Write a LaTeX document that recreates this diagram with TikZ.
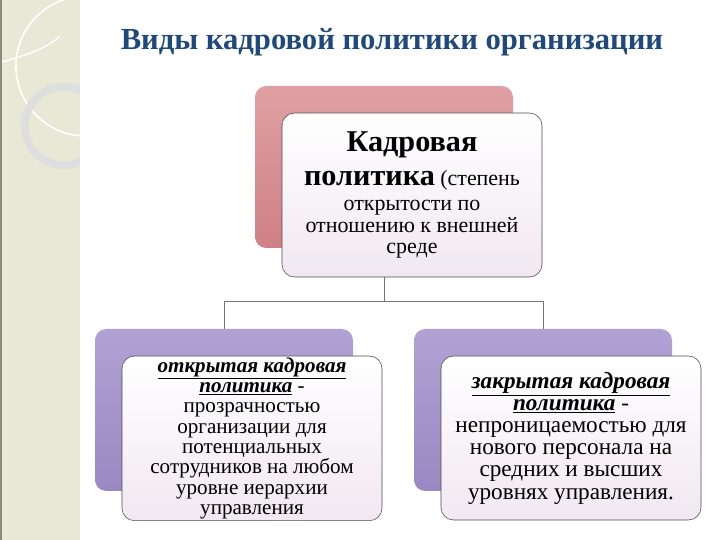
\documentclass[tikz,border=0pt]{standalone}
\usepackage{fontspec}
\setmainfont{Liberation Serif}
\usetikzlibrary{positioning, calc}
\definecolor{titleblue}{HTML}{1F497D}
\definecolor{stripbeige}{HTML}{E9E7D6}
\definecolor{stripedge}{HTML}{8C8A7E}
\definecolor{pinktop}{HTML}{E0A0A3}
\definecolor{pinkbot}{HTML}{CF8085}
\definecolor{lilactop}{HTML}{B1A2D4}
\definecolor{lilacbot}{HTML}{9A88C2}
\definecolor{frontbot}{HTML}{F1E8F1}

\begin{document}
\begin{tikzpicture}[
  backbox/.style={minimum width=6.45cm, minimum height=4.05cm, rounded corners=8pt, inner sep=0pt},
  frontbox/.style={draw=black!70, thin, top color=white, bottom color=frontbot, minimum width=6.5cm, minimum height=4.1cm, rounded corners=9pt, align=center, inner sep=1pt, anchor=north west},
  link/.style={draw=black!55, thin},
  every node/.style={align=center}]
  \useasboundingbox (0,0) rectangle (18,13.5);

  % Left strip
  \fill[stripbeige] (0,0) rectangle (2,13.5);
  \fill[stripedge] (0,0) rectangle (0.05,13.5);
  \begin{scope}
    \clip (0.05,0) rectangle (2,13.5);
    \draw[white, line width=1.2pt] (2.15,11.85) circle (1.75);
    \draw[black!13, line width=5.5pt] (1.6,10.35) circle (0.98);
    \draw[white, line width=1pt] (0.05,11.95) .. controls (0.6,12.1) and (1.2,12.3) .. (1.5,12.6);
  \end{scope}

  % Title
  \node[text=titleblue, font=\fontsize{21.8}{26}\selectfont\bfseries] (title) at (9.8,12.45) {Виды кадровой политики организации};

  % Back boxes
  \node[backbox, top color=pinktop, bottom color=pinkbot] (topback) at (9.6,9.325) {};
  \node[backbox, top color=lilactop, bottom color=lilacbot] (leftback) at (5.6,3.25) {};
  \node[backbox, top color=lilactop, bottom color=lilacbot] (rightback) at (13.575,3.25) {};

  % Connectors
  \draw[link] (topback.south) -- ++(0,-1.325) coordinate (fork);
  \draw[link] (fork) -| (leftback.north);
  \draw[link] (fork) -| (rightback.north);

  % Front boxes
  \node[frontbox, font=\fontsize{15.6}{15.5}\selectfont] (policy) at ([shift={(0.675,-0.675)}]topback.north west)
    {{\fontsize{21.5}{20}\selectfont\bfseries Кадровая}\\[9pt]
     {\fontsize{21.5}{20}\selectfont\bfseries политика} (степень\\[2pt]
     открытости по\\
     отношению к внешней\\
     среде};
  \node[frontbox, font=\fontsize{15}{14.5}\selectfont] (open) at ([shift={(0.675,-0.675)}]leftback.north west)
    {\textbf{\textit{\underline{открытая кадровая}}}\\
     \textbf{\textit{\underline{политика}}} -\\
     прозрачностью\\
     организации для\\
     потенциальных\\
     сотрудников на любом\\
     уровне иерархии\\
     управления};
  \node[frontbox, font=\fontsize{16.5}{15.8}\selectfont] (closed) at ([shift={(0.675,-0.675)}]rightback.north west)
    {\textbf{\textit{\underline{закрытая кадровая}}}\\
     \textbf{\textit{\underline{политика}}} -\\
     непроницаемостью для\\
     нового персонала на\\
     средних и высших\\
     уровнях управления.};
\end{tikzpicture}
\end{document}
